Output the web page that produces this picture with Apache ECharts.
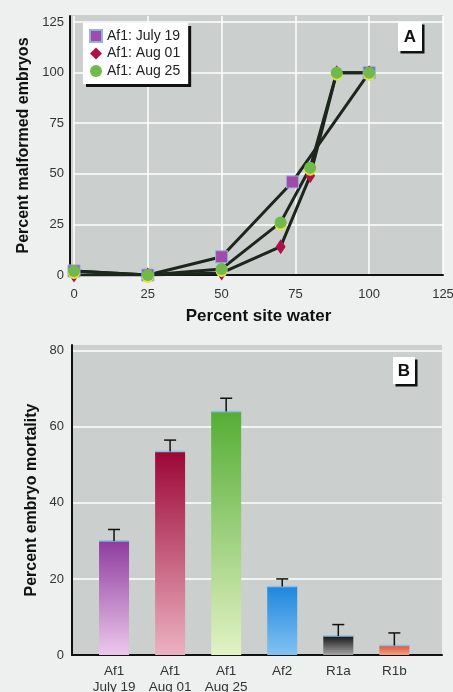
<!DOCTYPE html>
<html><head><meta charset="utf-8">
<script src="https://cdn.jsdelivr.net/npm/echarts@6/dist/echarts.min.js"></script>
<style>html,body{margin:0;padding:0;background:#eef0ef;}#c{width:453px;height:692px;}</style>
</head><body><div id="c"></div>
<script>
// ---- Panel A data: [percent site water, percent malformed] ----
const july19 = [[0,2],[25,0],[50,9],[74,46],[100,100]];
const aug01  = [[0,0],[25,0],[50,1],[70,14],[80,49],[89,100],[100,100]];
const aug25  = [[0,2],[25,0],[50,3],[70,26],[80,53],[89,100],[100,100]];
const seriesNamesA = ['Af1: July 19','Af1: Aug 01','Af1: Aug 25'];
const xTicksA = [0,25,50,75,100,125];
const yTicksA = [0,25,50,75,100,125];
// ---- Panel B data ----
const categoriesB = ['Af1\nJuly 19','Af1\nAug 01','Af1\nAug 25','Af2','R1a','R1b'];
const mortality   = [30, 53.5, 64, 18, 5, 2.5];
const mortErr     = [3, 3, 3.5, 2, 3, 3.3];
const yTicksB = [0,20,40,60,80];

const FONT = "'Liberation Sans Narrow','Liberation Sans',Arial,sans-serif";
const barColors = [
  ['#8e3c9e','#ecc8ec'],
  ['#9c0636','#ecb2c2'],
  ['#55ad35','#e2f2c4'],
  ['#1f86de','#82c2f2'],
  ['#161616','#a4a4a4'],
  ['#de5434','#f2a484']
];

const chart = echarts.init(document.getElementById('c'), null, {renderer:'canvas'});
const lineStyle = {color:'#1d261c', width:3};

const option = {
  backgroundColor:'#eef0ef',
  animation:false,
  textStyle:{fontFamily:FONT},
  grid:[
    {left:74, right:10, top:16, bottom:417, show:false, containLabel:false, outerBoundsMode:'none'},
    {left:72, right:11, top:345, bottom:37, show:true, backgroundColor:'#cbcfce', borderWidth:0, containLabel:false, outerBoundsMode:'none'}
  ],
  xAxis:[
    {gridIndex:0, type:'value', min:0, max:125, interval:25,
     name:'Percent site water', nameLocation:'middle', nameGap:33, nameMoveOverlap:false,
     nameTextStyle:{fontFamily:FONT, fontSize:17, fontWeight:'bold', color:'#111'},
     axisLine:{show:true, onZero:false, lineStyle:{color:'#111', width:2}},
     axisTick:{show:false},
     axisLabel:{fontFamily:FONT, fontSize:13, color:'#333', margin:13,
       formatter:v=>xTicksA.includes(v)?String(v):''},
     splitLine:{show:true, lineStyle:{color:'#ffffff', width:1.5}}},
    {gridIndex:1, type:'value', min:-0.75, max:5.85,
     axisLine:{show:true, onZero:false, lineStyle:{color:'#111', width:2}},
     axisTick:{show:false},
     axisLabel:{fontFamily:FONT, fontSize:13.5, color:'#333', margin:8, lineHeight:16,
       customValues:[0,1,2,3,4,5], formatter:v=>categoriesB[Math.round(v)]},
     splitLine:{show:false}}
  ],
  yAxis:[
    {gridIndex:0, type:'value', min:0, max:128, interval:25, offset:4,
     name:'Percent malformed embryos', nameLocation:'middle', nameGap:38, nameMoveOverlap:false,
     nameTextStyle:{fontFamily:FONT, fontSize:16, fontWeight:'bold', color:'#111'},
     axisLine:{show:true, onZero:false, lineStyle:{color:'#111', width:2}},
     axisTick:{show:false},
     axisLabel:{fontFamily:FONT, fontSize:13, color:'#333', margin:6, showMaxLabel:false,
       formatter:v=>yTicksA.includes(v)?String(v):''},
     splitLine:{show:true, showMaxLine:false, lineStyle:{color:'#ffffff', width:1.5}}},
    {gridIndex:1, type:'value', min:0, max:81.5, interval:20,
     name:'Percent embryo mortality', nameLocation:'middle', nameGap:32, nameMoveOverlap:false,
     nameTextStyle:{fontFamily:FONT, fontSize:16, fontWeight:'bold', color:'#111'},
     axisLine:{show:true, onZero:false, lineStyle:{color:'#111', width:2}},
     axisTick:{show:false},
     axisLabel:{fontFamily:FONT, fontSize:13, color:'#333', margin:8, showMaxLabel:false,
       formatter:v=>yTicksB.includes(v)?String(v):''},
     splitLine:{show:true, showMaxLine:false, showMinLine:false, lineStyle:{color:'#ffffff', width:1.5}}}
  ],
  legend:{
    left:83, top:23, orient:'vertical', itemGap:3.5, itemWidth:12, itemHeight:12,
    padding:[6,8,6,6], backgroundColor:'#ffffff',
    shadowColor:'#111', shadowBlur:0, shadowOffsetX:3, shadowOffsetY:3,
    textStyle:{fontFamily:FONT, fontSize:14, color:'#222'},
    data:[
      {name:seriesNamesA[0], icon:'rect'},
      {name:seriesNamesA[1], icon:'diamond'},
      {name:seriesNamesA[2], icon:'circle'}
    ]
  },
  graphic:[
    {type:'rect', z:-10, shape:{x:70, y:15, width:373, height:260}, style:{fill:'#cbcfce'}, silent:true},
    {type:'rect', z:10, shape:{x:398, y:22, width:24, height:29},
     style:{fill:'#ffffff', shadowColor:'#111', shadowBlur:0, shadowOffsetX:2.5, shadowOffsetY:2.5}},
    {type:'text', z:11, x:410, y:37, style:{text:'A', font:'bold 17px '+FONT, fill:'#111', align:'center', verticalAlign:'middle'}},
    {type:'rect', z:10, shape:{x:393, y:357, width:22, height:27},
     style:{fill:'#ffffff', shadowColor:'#111', shadowBlur:0, shadowOffsetX:2.5, shadowOffsetY:2.5}},
    {type:'text', z:11, x:404, y:371, style:{text:'B', font:'bold 17px '+FONT, fill:'#111', align:'center', verticalAlign:'middle'}}
  ],
  series:[
    {name:seriesNamesA[0], type:'line', xAxisIndex:0, yAxisIndex:0, data:july19,
     symbol:'rect', symbolSize:12, lineStyle:lineStyle,
     itemStyle:{color:'#a24aa8', borderColor:'#8fb2e2', borderWidth:1}},
    {name:seriesNamesA[1], type:'line', xAxisIndex:0, yAxisIndex:0, data:aug01,
     symbol:'diamond', symbolSize:[10,15], lineStyle:lineStyle,
     itemStyle:{color:'#b0104a'}},
    {name:seriesNamesA[2], type:'line', xAxisIndex:0, yAxisIndex:0, data:aug25,
     symbol:'circle', symbolSize:12, lineStyle:lineStyle,
     itemStyle:{color:'#6fba4a', shadowColor:'#e6e23c', shadowBlur:0, shadowOffsetY:2}},
    {name:'mortality', type:'bar', xAxisIndex:1, yAxisIndex:1, barWidth:30,
     data:mortality.map((v,i)=>({value:[i,v], itemStyle:{color:new echarts.graphic.LinearGradient(0,0,0,1,[
       {offset:0,color:barColors[i][0]},{offset:1,color:barColors[i][1]}])}}))},
    {name:'error', type:'custom', xAxisIndex:1, yAxisIndex:1, z:5,
     data:mortality.map((v,i)=>[i,v,mortErr[i]]),
     renderItem:function(params, api){
       const x=api.value(0), y=api.value(1), e=api.value(2);
       const p0=api.coord([x,y]), p1=api.coord([x,y+e]);
       return {type:'group', children:[
         {type:'line', shape:{x1:p0[0]-15,y1:p0[1],x2:p0[0]+15,y2:p0[1]}, style:{stroke:'#8cc0e8', lineWidth:1.5}},
         {type:'line', shape:{x1:p0[0],y1:p0[1],x2:p1[0],y2:p1[1]}, style:{stroke:'#111', lineWidth:1.5}},
         {type:'line', shape:{x1:p1[0]-6,y1:p1[1],x2:p1[0]+6,y2:p1[1]}, style:{stroke:'#111', lineWidth:1.5}}
       ]};
     }}
  ]
};
chart.setOption(option);
</script></body></html>
